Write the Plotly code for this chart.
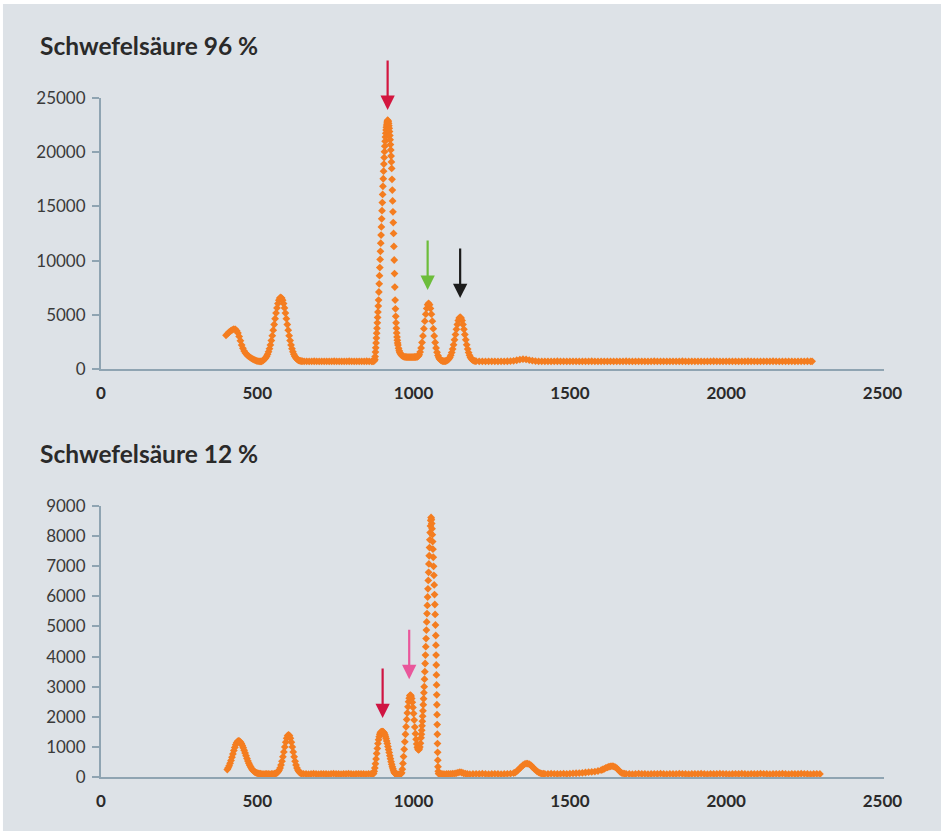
"""
Two spectra (sulphuric acid 96 % and 12 %) drawn as dense diamond markers.
"""

import plotly.graph_objects as go

ORANGE = "#F47D20"
BG = "#dde2e7"
AXIS = "#8fa4b2"
TEXT = "#2a2a2a"
FONT = "Lato"

TOP_TITLE = "Schwefelsäure 96 %"
BOTTOM_TITLE = "Schwefelsäure 12 %"

X_TICKS = [0, 500, 1000, 1500, 2000, 2500]
TOP_Y_TICKS = [0, 5000, 10000, 15000, 20000, 25000]
BOTTOM_Y_TICKS = [0, 1000, 2000, 3000, 4000, 5000, 6000, 7000, 8000, 9000]

# (x, intensity), top panel
TOP_SPECTRUM = [
    (400, 3100), (405, 3250), (410, 3400), (415, 3520), (420, 3610), (425, 3670),
    (430, 3650), (434, 3520), (438, 3320), (442, 3000), (446, 2600), (450, 2200),
    (454, 1900), (458, 1650), (462, 1470), (466, 1330), (470, 1220), (474, 1130),
    (478, 1050), (482, 970), (486, 900), (490, 840), (494, 790), (498, 750),
    (502, 720), (506, 700), (510, 690), (514, 700), (518, 760),
    (521, 854), (524, 928), (527, 1031), (530, 1170), (533, 1351), (536, 1582),
    (539, 1868), (542, 2212), (545, 2616), (548, 3072), (551, 3572), (554, 4100),
    (557, 4635), (560, 5155), (563, 5628), (566, 6032), (569, 6341), (572, 6534),
    (575, 6600), (578, 6534), (581, 6341), (584, 6032), (587, 5628), (590, 5155),
    (593, 4635), (596, 4100), (599, 3572), (602, 3072), (605, 2616), (608, 2212),
    (611, 1868), (614, 1582), (617, 1351), (620, 1170), (623, 1031), (626, 928),
    (629, 854), (632, 802), (635, 765), (638, 741), (641, 725), (644, 715),
    (650, 705), (658, 700), (666, 690), (674, 700), (682, 710), (690, 700),
    (698, 695), (706, 700), (714, 705), (722, 700), (730, 690), (738, 700),
    (746, 710), (754, 705), (762, 700), (770, 695), (778, 700), (786, 705),
    (794, 710), (802, 700), (810, 695), (818, 700), (826, 705), (834, 700),
    (842, 700), (850, 710), (858, 700), (866, 700),
    (870, 710), (873, 730), (875, 780), (876, 880), (877, 1135), (878, 1550),
    (879, 1950), (880, 2400), (881, 2850), (882, 3300), (883, 3750), (884, 4250),
    (885, 4750), (886, 5250), (887, 5800), (888, 6350), (889, 7100), (890, 7850),
    (891, 8600), (892, 9350), (893, 10100), (894, 10850), (895, 11600), (896, 12350),
    (897, 13100), (898, 13850), (899, 14600), (900, 15350), (901, 16100), (902, 16850),
    (903, 17550), (904, 18250), (905, 18900), (906, 19500), (907, 20050), (908, 20550),
    (909, 21000), (910, 21400), (911, 21750), (912, 22050), (913, 22300), (914, 22500),
    (915, 22700), (916, 22850), (917, 22950), (918, 22900), (919, 22800), (920, 22650),
    (921, 22450), (922, 22200), (923, 21900), (924, 21550), (925, 21150), (926, 20700),
    (927, 20200), (928, 19650), (929, 19100), (930, 18500), (931, 17500), (932, 16500),
    (933, 15500), (934, 14500), (935, 13500), (936, 12500), (937, 11300), (938, 10050),
    (939, 8800), (940, 7550), (941, 6350), (942, 5550), (943, 4850), (944, 4250),
    (945, 3750), (946, 3320), (947, 2950), (948, 2650), (949, 2400), (950, 2200),
    (952, 1900), (954, 1680), (956, 1520), (958, 1400), (961, 1280), (964, 1200),
    (967, 1150), (970, 1120), (973, 1110), (976, 1100), (979, 1090), (982, 1085),
    (985, 1080), (988, 1080), (991, 1080), (994, 1085), (997, 1090), (1000, 1095),
    (1003, 1100), (1006, 1100), (1009, 1105), (1012, 1120), (1015, 1180), (1018, 1300),
    (1021, 1550), (1024, 1931), (1027, 2437), (1030, 3041), (1033, 3714), (1036, 4405),
    (1039, 5051), (1042, 5581), (1045, 5929), (1048, 6050), (1051, 5929), (1054, 5581),
    (1057, 5051), (1060, 4405), (1063, 3714), (1066, 3041), (1069, 2437), (1072, 1931),
    (1075, 1533), (1078, 1239), (1081, 1033), (1084, 896), (1087, 810), (1090, 759),
    (1093, 731), (1096, 718), (1099, 712), (1102, 725), (1104, 745), (1107, 781),
    (1110, 838), (1113, 928), (1116, 1062), (1119, 1251), (1122, 1505), (1125, 1831),
    (1128, 2227), (1131, 2681), (1134, 3168), (1137, 3655), (1140, 4100), (1143, 4457),
    (1146, 4689), (1149, 4770), (1152, 4689), (1155, 4457), (1158, 4100), (1161, 3655),
    (1164, 3168), (1167, 2681), (1170, 2227), (1173, 1831), (1176, 1505), (1179, 1251),
    (1182, 1062), (1185, 928), (1188, 838), (1191, 781), (1194, 745), (1197, 724),
    (1200, 712), (1210, 705), (1220, 700), (1230, 695), (1240, 700), (1250, 705),
    (1260, 700), (1270, 695), (1280, 700), (1290, 705), (1300, 710), (1310, 720),
    (1320, 750), (1330, 800), (1340, 860), (1350, 900), (1360, 880), (1370, 820),
    (1380, 760), (1390, 720), (1400, 705),
    (1410, 700), (1420, 705), (1430, 700), (1440, 695), (1450, 700), (1460, 710),
    (1470, 705), (1480, 700), (1490, 695), (1500, 700), (1510, 705), (1520, 700),
    (1530, 690), (1540, 700), (1550, 705), (1560, 700), (1570, 710), (1580, 700),
    (1590, 695), (1600, 700), (1610, 700), (1620, 705), (1630, 700), (1640, 695),
    (1650, 705), (1660, 700), (1670, 700), (1680, 710), (1690, 700), (1700, 695),
    (1710, 700), (1720, 705), (1730, 700), (1740, 700), (1750, 695), (1760, 700),
    (1770, 710), (1780, 705), (1790, 700), (1800, 700), (1810, 695), (1820, 700),
    (1830, 705), (1840, 700), (1850, 700), (1860, 710), (1870, 700), (1880, 695),
    (1890, 700), (1900, 705), (1910, 700), (1920, 700), (1930, 695), (1940, 705),
    (1950, 700), (1960, 710), (1970, 700), (1980, 700), (1990, 695), (2000, 700),
    (2010, 705), (2020, 700), (2030, 700), (2040, 690), (2050, 700), (2060, 705),
    (2070, 710), (2080, 700), (2090, 700), (2100, 695), (2110, 700), (2120, 705),
    (2130, 700), (2140, 700), (2150, 710), (2160, 700), (2170, 695), (2180, 700),
    (2190, 705), (2200, 700), (2210, 700), (2220, 695), (2230, 700), (2240, 705),
    (2250, 700), (2260, 710), (2270, 700), (2275, 700),
]

# (x, intensity), bottom panel
BOTTOM_SPECTRUM = [
    (404, 249), (407, 305), (410, 374), (413, 457), (416, 552), (419, 657),
    (422, 767), (425, 877), (428, 981), (431, 1071), (434, 1141), (437, 1185),
    (440, 1200), (443, 1190), (446, 1160), (449, 1112), (452, 1048), (455, 972),
    (458, 887), (461, 798), (464, 707), (467, 618), (470, 534), (473, 457),
    (476, 388), (479, 329), (482, 278), (485, 236), (488, 202), (491, 175),
    (494, 154), (497, 138), (500, 127), (503, 118), (506, 112),
    (510, 108), (515, 100), (520, 95), (525, 100), (530, 105), (535, 100),
    (540, 95), (545, 100), (550, 105), (555, 108),
    (558, 114), (561, 127), (564, 148), (567, 181), (570, 231), (573, 302),
    (576, 399), (579, 522), (582, 669), (585, 832), (588, 1000), (591, 1157),
    (594, 1286), (597, 1370), (600, 1400), (603, 1370), (606, 1286), (609, 1157),
    (612, 1000), (615, 832), (618, 669), (621, 522), (624, 399), (627, 302),
    (630, 231), (633, 181), (636, 148), (639, 127), (642, 114),
    (648, 105), (656, 100), (664, 95), (672, 100), (680, 110), (688, 100),
    (696, 95), (704, 105), (712, 100), (720, 100), (728, 95), (736, 105),
    (744, 110), (752, 100), (760, 100), (768, 95), (776, 105), (784, 100),
    (792, 110), (800, 100), (808, 95), (816, 100), (824, 105), (832, 100),
    (840, 100), (848, 95), (856, 105), (864, 100),
    (870, 100), (872, 120), (874, 190), (876, 300), (878, 440), (880, 600),
    (882, 780), (884, 950), (886, 1110), (888, 1240), (890, 1340), (892, 1420),
    (894, 1470), (896, 1500), (898, 1510), (900, 1510), (902, 1505), (904, 1490),
    (906, 1460), (908, 1410), (910, 1350), (912, 1280), (914, 1200), (916, 1110),
    (918, 1010), (920, 910), (922, 810), (924, 710), (926, 610), (928, 510),
    (930, 420), (932, 340), (934, 270), (936, 210), (938, 160), (940, 125),
    (942, 105), (944, 95), (947, 90), (950, 85), (953, 88), (956, 95), (958, 105),
    (960, 110), (962, 140), (964, 260), (966, 450), (968, 680), (970, 920),
    (972, 1170), (974, 1420), (976, 1670), (978, 1910), (980, 2130), (982, 2330),
    (984, 2500), (986, 2620), (988, 2700), (990, 2720), (992, 2690), (994, 2610),
    (996, 2480), (998, 2310), (1000, 2110), (1002, 1890), (1004, 1660), (1006, 1440),
    (1008, 1250), (1010, 1100), (1012, 990), (1014, 930), (1016, 900),
    (1018, 930), (1020, 1000), (1022, 1120), (1024, 1300), (1025, 1420), (1026, 1550),
    (1027, 1700), (1028, 1850), (1029, 2020), (1030, 2200), (1031, 2400), (1032, 2600),
    (1033, 2800), (1034, 3000), (1035, 3250), (1036, 3500), (1037, 3770), (1038, 4050),
    (1039, 4330), (1040, 4600), (1041, 4880), (1042, 5150), (1043, 5430), (1044, 5700),
    (1045, 5980), (1046, 6250), (1047, 6530), (1048, 6800), (1049, 7080), (1050, 7350),
    (1051, 7620), (1052, 7880), (1053, 8120), (1054, 8340), (1055, 8520), (1056, 8620),
    (1057, 8560), (1058, 8420), (1059, 8250), (1060, 8050), (1061, 7820), (1062, 7570),
    (1063, 7300), (1064, 7000), (1065, 6700), (1066, 6380), (1067, 6060), (1068, 5730),
    (1069, 5400), (1070, 5050), (1071, 4700), (1071.5, 4380), (1072, 4050),
    (1072.5, 3720), (1073, 3390), (1073.5, 3060), (1074, 2730), (1074.5, 2400),
    (1075, 2070), (1075.5, 1740), (1076, 1420), (1076.5, 1110), (1077, 820),
    (1077.5, 560), (1078, 340), (1079, 190), (1080, 120), (1082, 100),
    (1088, 105), (1094, 100), (1100, 95), (1106, 100), (1112, 105), (1118, 100),
    (1124, 110), (1130, 115), (1136, 125), (1142, 145), (1148, 160), (1154, 150),
    (1160, 125), (1166, 110), (1172, 100), (1180, 95), (1190, 100), (1200, 105),
    (1210, 100), (1220, 110), (1230, 100), (1240, 95), (1250, 100), (1260, 105),
    (1270, 100), (1280, 95), (1290, 100), (1300, 105), (1310, 110), (1320, 130),
    (1325, 150), (1330, 190), (1335, 240), (1340, 290), (1345, 340), (1350, 390),
    (1355, 425), (1360, 445), (1365, 445), (1370, 425), (1375, 390), (1380, 340),
    (1385, 285), (1390, 235), (1395, 190), (1400, 155), (1405, 130), (1410, 115),
    (1415, 108), (1420, 105), (1430, 100), (1440, 110), (1450, 105), (1460, 100),
    (1470, 105), (1480, 110), (1490, 100), (1500, 110), (1510, 120), (1520, 125),
    (1530, 130), (1540, 140), (1550, 150), (1560, 160), (1570, 170), (1580, 180),
    (1590, 200), (1600, 230), (1605, 250), (1610, 270), (1615, 300), (1620, 320),
    (1625, 340), (1630, 355), (1635, 360), (1640, 350), (1645, 330), (1650, 290),
    (1655, 240), (1660, 180), (1665, 140), (1670, 120), (1675, 110),
    (1680, 105), (1690, 100), (1700, 95), (1710, 100), (1720, 110), (1730, 100),
    (1740, 105), (1750, 95), (1760, 100), (1770, 105), (1780, 100), (1790, 110),
    (1800, 100), (1810, 95), (1820, 105), (1830, 100), (1840, 100), (1850, 110),
    (1860, 105), (1870, 100), (1880, 95), (1890, 100), (1900, 105), (1910, 100),
    (1920, 110), (1930, 100), (1940, 95), (1950, 105), (1960, 100), (1970, 100),
    (1980, 110), (1990, 105), (2000, 100), (2010, 95), (2020, 100), (2030, 105),
    (2040, 100), (2050, 110), (2060, 100), (2070, 95), (2080, 105), (2090, 100),
    (2100, 100), (2110, 110), (2120, 105), (2130, 100), (2140, 95), (2150, 100),
    (2160, 105), (2170, 100), (2180, 110), (2190, 100), (2200, 95), (2210, 105),
    (2220, 100), (2230, 100), (2240, 110), (2250, 105), (2260, 100), (2270, 95),
    (2280, 100), (2290, 105), (2300, 100),
]

# arrow tips (x, y, colour) pointing at the marked bands
TOP_ARROWS = [(917, 23900, "#d3163f"), (1045, 7290, "#6cbd3b"), (1149, 6550, "#1c1c1c")]
BOTTOM_ARROWS = [(1058, 9060, "#6cbd3b"), (986, 3250, "#e9579b"), (901, 1960, "#cf1442")]


def spectrum_trace(points, xaxis, yaxis):
    xs = [p[0] for p in points]
    ys = [p[1] for p in points]
    return go.Scatter(
        x=xs,
        y=ys,
        mode="markers",
        marker=dict(symbol="diamond", size=6, color=ORANGE, line=dict(width=0)),
        xaxis=xaxis,
        yaxis=yaxis,
        cliponaxis=False,
        hoverinfo="skip",
        showlegend=False,
    )


fig = go.Figure()
fig.add_trace(spectrum_trace(TOP_SPECTRUM, "x", "y"))
fig.add_trace(spectrum_trace(BOTTOM_SPECTRUM, "x2", "y2"))

x_axis = dict(
    range=[0, 2505],
    tickvals=X_TICKS,
    tickformat="d",
    ticks="",
    showline=True,
    linecolor=AXIS,
    linewidth=2,
    showgrid=False,
    zeroline=False,
    ticklabelstandoff=8,
    tickfont=dict(family=FONT, size=17, color=TEXT, weight="bold"),
)
y_axis = dict(
    tickformat="d",
    ticks="outside",
    ticklen=7,
    tickwidth=1.5,
    tickcolor=AXIS,
    showline=True,
    linecolor=AXIS,
    linewidth=2,
    showgrid=False,
    zeroline=False,
    ticklabelstandoff=3,
    tickfont=dict(family=FONT, size=17, color="#3a3a3a"),
)

fig.update_layout(
    width=943,
    height=833,
    margin=dict(l=101, r=59, t=98, b=56),
    paper_bgcolor="white",
    plot_bgcolor="rgba(0,0,0,0)",
    xaxis=dict(x_axis, domain=[0, 1], anchor="y"),
    yaxis=dict(y_axis, domain=[0.601, 1], anchor="x", range=[0, 25000],
               tickvals=TOP_Y_TICKS),
    xaxis2=dict(x_axis, domain=[0, 1], anchor="y2"),
    yaxis2=dict(y_axis, domain=[0, 0.399], anchor="x2", range=[0, 9000],
                tickvals=BOTTOM_Y_TICKS),
    shapes=[
        dict(type="rect", xref="paper", yref="paper", x0=-0.1252, x1=1.0728,
             y0=-0.0795, y1=1.1384, fillcolor=BG, line=dict(width=0), layer="below"),
    ],
)

# panel titles
for text, ypos in [(TOP_TITLE, 1.0773), (BOTTOM_TITLE, 0.4757)]:
    fig.add_annotation(
        text=text, xref="paper", yref="paper", x=-0.0805, y=ypos,
        xanchor="left", yanchor="middle", showarrow=False,
        font=dict(family=FONT, size=24.5, color=TEXT, weight="bold"),
    )

for arrows, xref, yref in [(TOP_ARROWS, "x", "y"), (BOTTOM_ARROWS, "x2", "y2")]:
    for ax_x, ax_y, colour in arrows:
        fig.add_annotation(
            x=ax_x, y=ax_y, xref=xref, yref=yref, text="",
            showarrow=True, arrowhead=2, arrowsize=1.3, arrowwidth=2.2,
            arrowcolor=colour, ax=0, ay=-51,
        )

# the page body has a default 8px margin; drop it so the figure sits at 0,0
fig.write_html(
    "out.html",
    config={"displayModeBar": False},
    post_script="document.body.style.margin='0px';",
)
